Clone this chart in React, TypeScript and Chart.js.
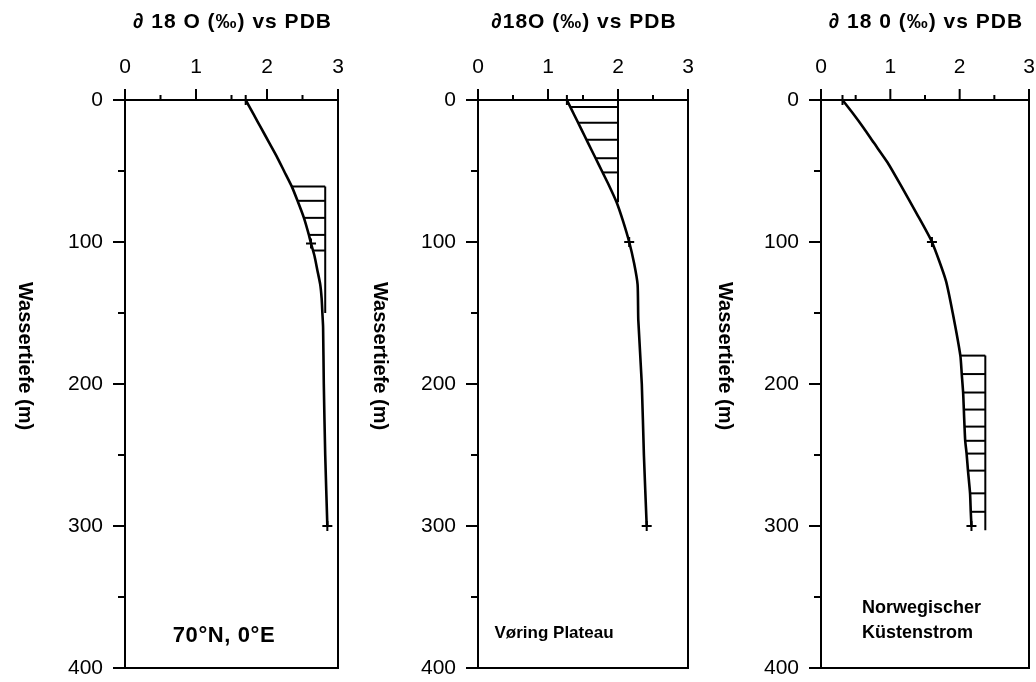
import React, { useEffect, useRef } from 'react';
import { Chart, registerables } from 'chart.js';

Chart.register(...registerables);

// ---------- data ----------
const deltaTickLabels = [0, 1, 2, 3];
const deltaTickMarks = [0, 0.5, 1, 1.5, 2, 2.5, 3];
const depthTickLabels = [0, 100, 200, 300, 400];
const depthTickMarks = [0, 50, 100, 150, 200, 250, 300, 350, 400];

const panelTitles = ['\u2202 18 O (\u2030) vs PDB', '\u220218O (\u2030) vs PDB', '\u2202 18 0 (\u2030) vs PDB'];
const yAxisTitle = 'Wassertiefe (m)';
const stationLabels = [['70°N, 0°E'], ['Vøring Plateau'], ['Norwegischer', 'Küstenstrom']];

// Panel 1: 70°N, 0°E
const depth1 = [0, 10, 20, 30, 40, 50, 61, 71, 83, 95, 101, 110, 120, 130, 140, 150, 160, 200, 250, 300];
const delta1 = [1.70, 1.81, 1.92, 2.03, 2.14, 2.24, 2.35, 2.43, 2.52, 2.59, 2.62, 2.67, 2.71, 2.75, 2.77, 2.78, 2.79, 2.80, 2.82, 2.85];
const hatchDepth1 = [61, 71, 83, 95, 106];
const hatchLeft1 = [2.35, 2.43, 2.52, 2.59, 2.65];
const hatchEdge1 = 2.82;
const hatchSpan1 = [61, 150];
const markerDepth1 = [0, 101, 300];
const markerDelta1 = [1.70, 2.62, 2.85];

// Panel 2: Vøring Plateau
const depth2 = [0, 10, 20, 30, 40, 50, 60, 72, 85, 100, 115, 130, 155, 200, 250, 300];
const delta2 = [1.27, 1.37, 1.47, 1.57, 1.67, 1.77, 1.87, 1.98, 2.07, 2.16, 2.23, 2.28, 2.29, 2.34, 2.37, 2.41];
const hatchDepth2 = [5, 16, 28, 41, 51];
const hatchLeft2 = [1.32, 1.43, 1.55, 1.68, 1.78];
const hatchEdge2 = 2.0;
const hatchSpan2 = [0, 72];
const markerDepth2 = [0, 100, 300];
const markerDelta2 = [1.27, 2.16, 2.41];

// Panel 3: Norwegischer Küstenstrom
const depth3 = [0, 10, 20, 30, 44, 60, 80, 100, 127, 150, 180, 193, 206, 218, 230, 240, 249, 261, 277, 290, 300];
const delta3 = [0.31, 0.47, 0.62, 0.76, 0.96, 1.15, 1.38, 1.60, 1.80, 1.90, 2.01, 2.03, 2.05, 2.06, 2.07, 2.08, 2.10, 2.12, 2.15, 2.16, 2.17];
const hatchDepth3 = [180, 193, 206, 218, 230, 240, 249, 261, 277, 290];
const hatchLeft3 = [2.01, 2.03, 2.05, 2.06, 2.07, 2.08, 2.10, 2.12, 2.15, 2.16];
const hatchEdge3 = 2.37;
const hatchSpan3 = [180, 303];
const markerDepth3 = [0, 100, 300];
const markerDelta3 = [0.31, 1.60, 2.17];

// ---------- layout (positions only) ----------
const layouts = [
  { left: 0, width: 345, yAxisWidth: 125, padRight: 7, yTitleOffset: 100, labelX: 224, labelAlign: 'center', labelY: 636, labelSize: 22, labelSpacing: 0.6 },
  { left: 350, width: 345, yAxisWidth: 128, padRight: 5, yTitleOffset: 98, labelX: 554, labelAlign: 'center', labelY: 633, labelSize: 17, labelSpacing: 0 },
  { left: 695, width: 341, yAxisWidth: 126, padRight: 5, yTitleOffset: 96, labelX: 862, labelAlign: 'left', labelY: 608, labelSize: 18, labelSpacing: 0 },
];

const panels = [
  { depth: depth1, delta: delta1, hDepth: hatchDepth1, hLeft: hatchLeft1, hEdge: hatchEdge1, hSpan: hatchSpan1, mDepth: markerDepth1, mDelta: markerDelta1 },
  { depth: depth2, delta: delta2, hDepth: hatchDepth2, hLeft: hatchLeft2, hEdge: hatchEdge2, hSpan: hatchSpan2, mDepth: markerDepth2, mDelta: markerDelta2 },
  { depth: depth3, delta: delta3, hDepth: hatchDepth3, hLeft: hatchLeft3, hEdge: hatchEdge3, hSpan: hatchSpan3, mDepth: markerDepth3, mDelta: markerDelta3 },
];

const FONT = '"Liberation Sans", Arial, Helvetica, sans-serif';
const CANVAS_H = 682;

function zeroPad(s: any) {
  s.paddingLeft = 0;
  s.paddingRight = 0;
  s.paddingTop = 0;
  s.paddingBottom = 0;
}

function Panel({ idx }: { idx: number }) {
  const ref = useRef<HTMLCanvasElement | null>(null);
  useEffect(() => {
    const p = panels[idx];
    const L = layouts[idx];
    const datasets: any[] = [];
    datasets.push({
      data: p.depth.map((d, i) => ({ x: p.delta[i], y: d })),
      showLine: true, borderColor: '#000', borderWidth: 2.6, pointRadius: 0, clip: false, tension: 0.2,
    });
    p.hDepth.forEach((d, i) => {
      datasets.push({
        data: [{ x: p.hLeft[i], y: d }, { x: p.hEdge, y: d }],
        showLine: true, borderColor: '#000', borderWidth: 2, pointRadius: 0, clip: false,
      });
    });
    datasets.push({
      data: [{ x: p.hEdge, y: p.hSpan[0] }, { x: p.hEdge, y: p.hSpan[1] }],
      showLine: true, borderColor: '#000', borderWidth: 2, pointRadius: 0, clip: false,
    });
    datasets.push({
      data: p.mDepth.map((d, i) => ({ x: p.mDelta[i], y: d })),
      showLine: false, pointStyle: 'cross', pointRadius: 5, borderWidth: 2, borderColor: '#000', clip: false,
    });

    const framePlugin = {
      id: 'frame' + idx,
      afterDraw(chart: any) {
        const { ctx, chartArea: a, scales } = chart;
        const xs = scales.x, ys = scales.y;
        ctx.save();
        ctx.strokeStyle = '#000';
        ctx.lineWidth = 2;
        ctx.strokeRect(a.left, a.top, a.right - a.left, a.bottom - a.top);
        ctx.beginPath();
        for (const v of deltaTickMarks) {
          const x = xs.getPixelForValue(v);
          const major = Number.isInteger(v);
          ctx.moveTo(x, a.top);
          ctx.lineTo(x, a.top - (major ? 11 : 5));
        }
        for (const v of depthTickMarks) {
          const y = ys.getPixelForValue(v);
          const major = v % 100 === 0;
          ctx.moveTo(a.left, y);
          ctx.lineTo(a.left - (major ? 12 : 7), y);
        }
        ctx.stroke();
        ctx.fillStyle = '#000';
        ctx.textBaseline = 'middle';
        ctx.textAlign = 'center';
        ctx.font = 'bold 21px ' + FONT;
        ctx.letterSpacing = '1px';
        ctx.fillText(panelTitles[idx], (a.left + a.right) / 2 + 1, 22);
        ctx.letterSpacing = '0px';
        ctx.font = 'bold 20px ' + FONT;
        ctx.save();
        ctx.translate(a.left - L.yTitleOffset, 356);
        ctx.rotate(Math.PI / 2);
        ctx.fillText(yAxisTitle, 0, 0);
        ctx.restore();
        ctx.font = 'bold ' + L.labelSize + 'px ' + FONT;
        ctx.letterSpacing = L.labelSpacing + 'px';
        ctx.textAlign = L.labelAlign;
        stationLabels[idx].forEach((t, i) => {
          ctx.fillText(t, L.labelX - L.left, L.labelY + i * 25);
        });
        ctx.letterSpacing = '0px';
        ctx.restore();
      },
    };

    const chart = new Chart(ref.current as HTMLCanvasElement, {
      type: 'scatter',
      data: { datasets },
      options: {
        animation: false,
        responsive: false,
        devicePixelRatio: 1,
        layout: { padding: { left: 0, right: L.padRight, top: 0, bottom: CANVAS_H - 668 } },
        plugins: { legend: { display: false }, tooltip: { enabled: false } },
        scales: {
          x: {
            type: 'linear', position: 'top', min: 0, max: 3,
            grid: { display: false, drawTicks: false }, border: { display: false },
            ticks: {
              stepSize: 1, padding: 20, color: '#000', font: { size: 21, family: FONT },
              callback: (v: any) => (deltaTickLabels.includes(v) ? String(v) : ''),
            },
            afterFit: (s: any) => { s.height = 100; zeroPad(s); },
          },
          y: {
            type: 'linear', position: 'left', min: 0, max: 400, reverse: true,
            grid: { display: false, drawTicks: false }, border: { display: false },
            ticks: {
              stepSize: 100, padding: 22, color: '#000', font: { size: 21, family: FONT },
              callback: (v: any) => (depthTickLabels.includes(v) ? String(v) : ''),
            },
            afterFit: (s: any) => { s.width = L.yAxisWidth; zeroPad(s); },
          },
        },
      } as any,
      plugins: [framePlugin],
    });
    return () => chart.destroy();
  }, [idx]);
  const L = layouts[idx];
  return (
    <canvas
      ref={ref}
      width={L.width}
      height={CANVAS_H}
      style={{ position: 'absolute', left: L.left, top: 0, width: L.width, height: CANVAS_H }}
    />
  );
}

export default function App() {
  return (
    <div style={{ position: 'absolute', left: 0, top: 0, width: 1036, height: 682, background: '#fff', overflow: 'hidden' }}>
      <Panel idx={0} />
      <Panel idx={1} />
      <Panel idx={2} />
    </div>
  );
}
